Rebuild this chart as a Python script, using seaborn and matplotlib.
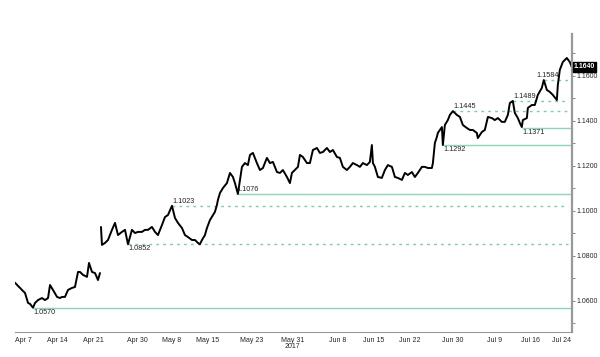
import numpy as np
import pandas as pd
import matplotlib
matplotlib.use("Agg")
import matplotlib.pyplot as plt
import seaborn as sns

# EUR/USD, x = trading days counted from Apr 7 2017
days_a = [-1.13, -0.71, -0.42, 0.0, 0.28, 0.71, 0.99, 1.41, 1.69, 2.12, 2.68, 3.10, 3.53,
          3.81, 4.23, 4.80, 5.22, 5.50, 5.92, 6.35, 6.91, 7.33, 7.76, 8.04, 8.46, 9.03,
          9.31, 9.73, 10.16, 10.58, 10.86]
price_a = [1.0681, 1.0667, 1.0658, 1.0644, 1.0636, 1.0591, 1.0587, 1.0570, 1.0591, 1.0604,
           1.0613, 1.0604, 1.0613, 1.0671, 1.0649, 1.0618, 1.0613, 1.0618, 1.0618, 1.0649,
           1.0658, 1.0662, 1.0729, 1.0729, 1.0716, 1.0707, 1.0769, 1.0729, 1.0724, 1.0693,
           1.0724]

# after the weekend gap (French election)
days_b = [11.00, 11.14, 11.57, 11.99, 12.55, 12.98, 13.40, 13.96, 14.39, 14.81, 15.37, 15.80,
          16.22, 16.78, 17.21, 17.63, 18.19, 18.62, 19.04, 19.61, 20.03, 20.45, 21.02, 21.44,
          21.86, 22.43, 22.85, 23.27, 23.84, 24.26, 24.68, 24.96, 25.25, 25.67, 25.95, 26.38,
          26.80, 27.08, 27.36, 27.50, 27.79, 28.21, 28.77, 29.20, 29.62, 29.90, 30.32, 30.61,
          30.89, 31.31, 31.73, 32.02, 32.44, 33.00, 33.43, 33.85, 34.41, 34.84, 35.26, 35.83,
          36.25, 36.67, 37.24, 37.66, 37.94, 38.36, 38.79, 39.07, 39.49, 40.06, 40.48, 40.90,
          41.47, 41.89, 42.31, 42.88, 43.30, 43.72, 44.29, 44.71, 45.13, 45.70, 46.12, 46.54,
          47.11, 47.53, 47.95, 48.52, 48.94, 49.22, 49.37, 49.65, 50.07, 50.63, 51.06, 51.48,
          52.05, 52.47, 52.89, 53.46, 53.88, 54.30, 54.87, 55.29, 55.71, 56.28, 56.70, 57.12,
          57.69, 57.83, 58.11, 58.39, 58.53, 59.10, 59.24, 59.52, 59.94, 60.23, 60.65, 61.21,
          61.64, 62.06, 62.62, 63.05, 63.47, 64.03, 64.17, 64.74, 65.16, 65.59, 66.15, 66.57,
          67.00, 67.56, 67.98, 68.41, 68.69, 69.11, 69.39, 69.82, 70.10, 70.38, 70.52, 71.09,
          71.23, 71.79, 72.21, 72.64, 73.20, 73.48, 73.91, 74.33, 74.75, 75.32, 75.46, 75.74,
          76.16, 76.73, 77.15, 77.43]
price_b = [1.0929, 1.0849, 1.0858, 1.0871, 1.0916, 1.0947, 1.0893, 1.0907, 1.0916, 1.0852,
           1.0916, 1.0902, 1.0907, 1.0907, 1.0916, 1.0916, 1.0929, 1.0907, 1.0893, 1.0938,
           1.0973, 1.0982, 1.1023, 1.0969, 1.0947, 1.0924, 1.0893, 1.0884, 1.0871, 1.0871,
           1.0858, 1.0852, 1.0871, 1.0893, 1.0924, 1.0960, 1.0982, 1.0996, 1.1027, 1.1049,
           1.1080, 1.1102, 1.1124, 1.1169, 1.1151, 1.1124, 1.1076, 1.1138, 1.1196, 1.1213,
           1.1204, 1.1249, 1.1258, 1.1213, 1.1182, 1.1191, 1.1236, 1.1213, 1.1218, 1.1173,
           1.1169, 1.1182, 1.1151, 1.1124, 1.1169, 1.1182, 1.1196, 1.1249, 1.1240, 1.1213,
           1.1213, 1.1271, 1.1280, 1.1258, 1.1262, 1.1280, 1.1262, 1.1271, 1.1240, 1.1236,
           1.1196, 1.1182, 1.1196, 1.1213, 1.1204, 1.1196, 1.1213, 1.1204, 1.1218, 1.1293,
           1.1213, 1.1196, 1.1151, 1.1147, 1.1182, 1.1204, 1.1196, 1.1151, 1.1147, 1.1138,
           1.1169, 1.1160, 1.1173, 1.1151, 1.1169, 1.1196, 1.1196, 1.1191, 1.1191, 1.1213,
           1.1302, 1.1329, 1.1347, 1.1373, 1.1293, 1.1382, 1.1404, 1.1427, 1.1444, 1.1427,
           1.1418, 1.1382, 1.1369, 1.1360, 1.1360, 1.1347, 1.1324, 1.1351, 1.1360, 1.1418,
           1.1413, 1.1404, 1.1413, 1.1396, 1.1396, 1.1427, 1.1480, 1.1489, 1.1436, 1.1413,
           1.1391, 1.1373, 1.1404, 1.1413, 1.1458, 1.1471, 1.1471, 1.1516, 1.1547, 1.1582,
           1.1538, 1.1529, 1.1516, 1.1493, 1.1560, 1.1627, 1.1662, 1.1680, 1.1662, 1.1640]

# support / resistance levels: value, starting day, solid?, label above?, label day
level_vals = [1.0570, 1.0852, 1.1023, 1.1076, 1.1292, 1.1371, 1.1445, 1.1489, 1.1584]
level_start = [1.41, 14.81, 21.02, 30.0, 59.24, 70.38, 60.65, 69.11, 73.48]
level_solid = [True, False, False, True, True, True, False, False, False]
level_above = [False, False, True, True, False, False, True, True, True]
label_day = [1.41, 14.81, 21.02, 30.0, 59.24, 70.38, 60.65, 69.11, 72.4]

tick_days = [0.0, 4.80, 9.87, 16.08, 21.02, 26.09, 32.30, 38.08, 44.43, 49.51, 54.59,
             60.65, 66.57, 71.65, 76.02]
tick_labels = ["Apr 7", "Apr 14", "Apr 21", "Apr 30", "May 8", "May 15", "May 23",
               "May 31\n2017", "Jun 8", "Jun 15", "Jun 22", "Jun 30", "Jul 9", "Jul 16",
               "Jul 24"]
last_price = 1.1640

df = pd.concat([
    pd.DataFrame({"day": days_a, "price": price_a, "seg": 0}),
    pd.DataFrame({"day": days_b, "price": price_b, "seg": 1}),
])

sns.set_style("white")
plt.rcParams["font.family"] = ["Liberation Sans", "DejaVu Sans"]

fig = plt.figure(figsize=(6, 3.57), dpi=100)
ax = fig.add_axes([0.025, 0.070, 0.928, 0.835])

x_lo, x_hi = -1.13, 77.43
green_solid = "#8ed6b3"
green_dash = "#7fcca6"

for v, s, solid, above, ld in zip(level_vals, level_start, level_solid, level_above, label_day):
    if solid:
        ax.hlines(v, s, x_hi, color=green_solid, lw=1.0, zorder=1)
    else:
        ax.hlines(v, s, x_hi - 0.6, color=green_dash, lw=1.0, linestyles=(0, (2, 3)), zorder=1)
    ax.text(ld + 0.1, v + (0.0004 if above else -0.0005), f"{v:.4f}", fontsize=5.2,
            va="bottom" if above else "top", ha="left", color="#222222", zorder=3)

sns.lineplot(data=df, x="day", y="price", units="seg", estimator=None,
             color="black", lw=1.4, ax=ax, zorder=2)

ax.set_xlim(x_lo, x_hi)
ax.set_ylim(1.0462, 1.1787)
ax.set_xlabel("")
ax.set_ylabel("")

ax.set_xticks(tick_days)
ax.set_xticklabels(tick_labels, fontsize=5, va="top", linespacing=0.9)
ax.set_xticks(np.arange(0, 78, 1.0), minor=True)
ax.yaxis.tick_right()
ax.set_yticks(np.arange(1.06, 1.161, 0.02))
ax.set_yticklabels([f"{t:.4f}" for t in np.arange(1.06, 1.161, 0.02)], fontsize=5)
ax.set_yticks(np.arange(1.05, 1.18, 0.02), minor=True)
ax.tick_params(axis="both", which="both", length=2, width=0.7, color="#888888", pad=1.5)
ax.tick_params(axis="x", which="minor", length=1.5)

for side in ["left", "top"]:
    ax.spines[side].set_visible(False)
ax.spines["right"].set_color("#999999")
ax.spines["right"].set_linewidth(1.6)
ax.spines["bottom"].set_color("#999999")
ax.spines["bottom"].set_linewidth(0.8)

ax.text(1.004, last_price, f"{last_price:.4f}", transform=ax.get_yaxis_transform(),
        fontsize=5, color="white", va="center", ha="left", fontweight="bold",
        bbox=dict(boxstyle="square,pad=0.15", fc="black", ec="black"), zorder=5,
        clip_on=False)

fig.savefig("out.png", dpi=100)
